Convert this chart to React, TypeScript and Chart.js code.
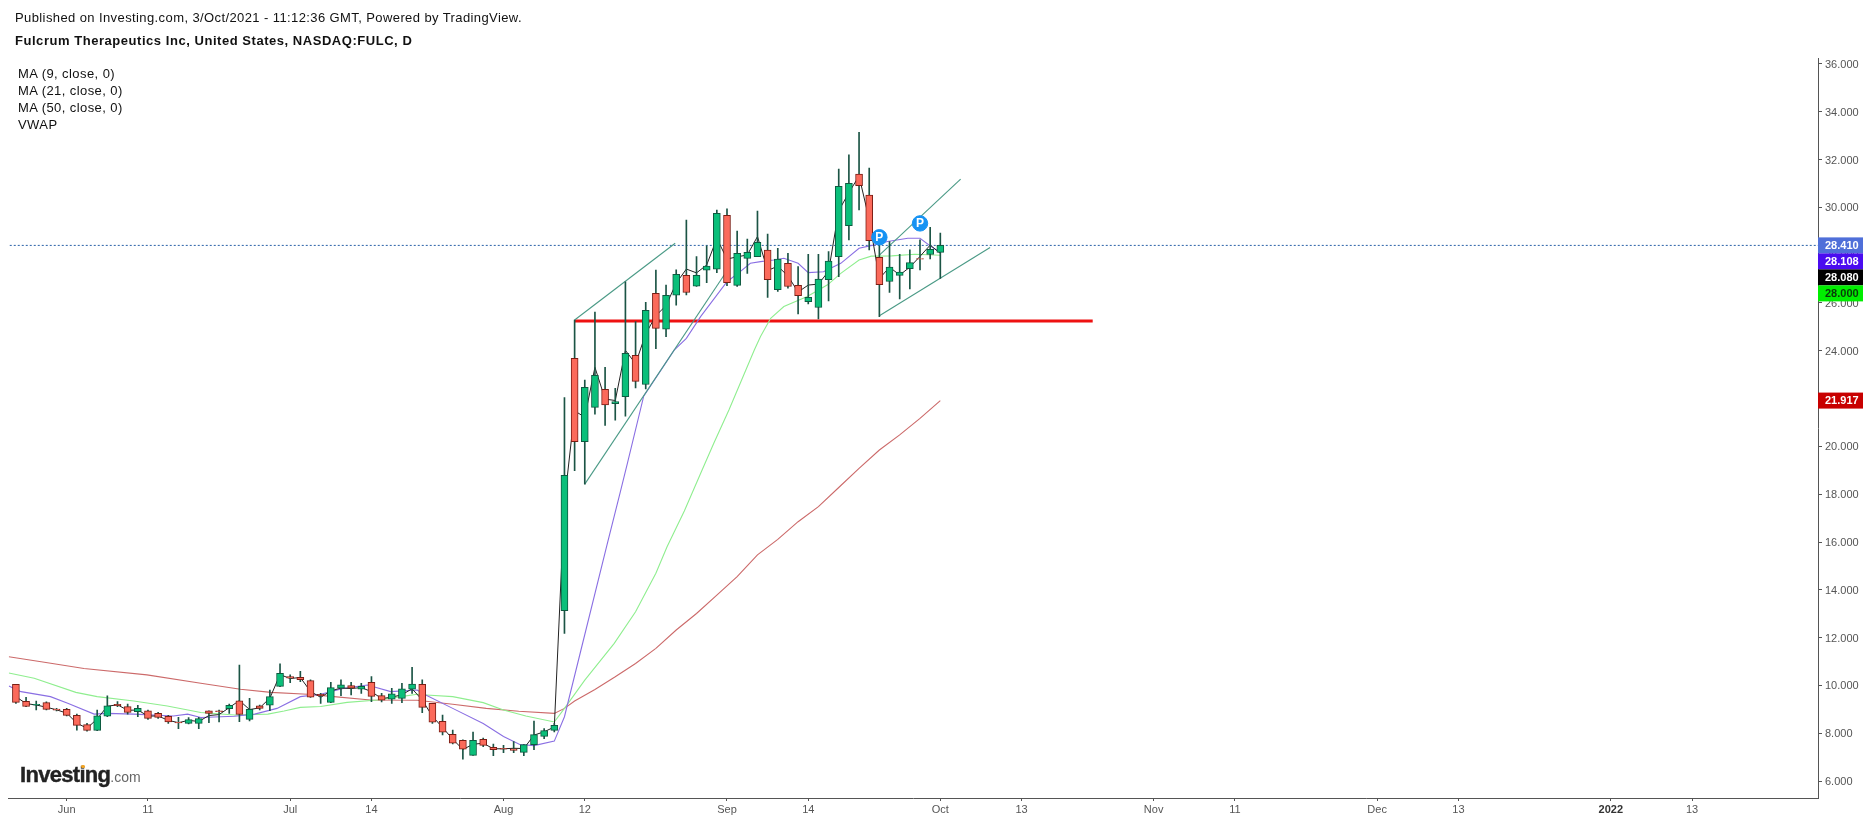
import React, { useEffect, useRef } from "react";
import { Chart, registerables } from "chart.js";

Chart.register(...registerables);

const FONT = "'Liberation Sans', Arial, sans-serif";

const firstBar = -5;
const opens = [10.05,9.33,9.17,9.28,9.01,9.00,8.75,8.36,8.12,8.71,9.21,9.11,8.90,8.94,8.83,8.71,8.46,8.41,8.41,8.94,8.94,9.03,9.36,8.58,9.15,9.17,9.96,10.37,10.34,10.20,9.63,9.29,9.88,9.99,9.84,10.13,9.57,9.42,9.46,9.84,10.05,9.25,8.50,7.95,7.70,7.07,7.74,7.41,7.37,7.35,7.20,7.52,7.87,8.12,13.13,23.68,20.20,21.63,22.39,21.79,22.08,23.81,22.59,26.40,24.90,26.33,27.16,26.70,27.37,27.41,29.67,26.74,27.87,27.94,28.21,26.56,27.66,26.74,26.06,25.81,26.98,27.94,29.24,31.39,30.51,27.91,26.90,27.15,27.44,27.86,28.03,28.12];
const closes = [9.29,9.12,9.21,9.00,8.96,8.75,8.33,8.12,8.73,9.15,9.15,8.87,9.04,8.62,8.66,8.47,8.43,8.57,8.61,8.83,8.90,9.17,8.79,9.00,9.04,9.53,10.51,10.30,10.24,9.51,9.57,9.91,10.03,9.88,9.96,9.54,9.38,9.65,9.86,10.06,9.08,8.46,8.04,7.58,7.33,7.70,7.49,7.31,7.33,7.28,7.52,7.94,8.11,8.33,18.79,20.20,22.47,22.97,21.74,21.88,23.89,22.72,25.69,24.94,26.32,27.20,26.44,27.16,27.54,29.75,26.85,28.08,28.12,28.54,26.98,27.84,26.69,26.31,26.24,27.00,27.75,30.88,31.01,30.91,28.61,26.77,27.50,27.29,27.69,27.83,28.25,28.41];
const highs = [10.05,9.50,9.35,9.31,9.04,9.04,8.80,8.41,8.97,9.56,9.32,9.22,9.17,8.97,8.87,8.75,8.66,8.65,8.66,8.94,8.97,9.22,10.85,9.46,9.18,9.81,10.90,10.44,10.59,10.23,9.67,10.13,10.23,10.13,10.09,10.37,9.67,9.88,10.09,10.76,10.23,9.25,8.76,8.13,7.72,8.05,7.80,7.55,7.49,7.65,7.52,8.51,8.19,8.41,22.04,25.29,22.78,25.62,23.31,22.43,26.89,25.22,26.03,27.38,26.75,27.39,29.47,27.94,28.39,29.89,29.94,29.01,28.67,29.85,28.88,28.29,28.08,27.52,28.04,28.04,28.15,31.60,32.20,33.14,31.64,28.85,28.57,28.04,28.22,28.64,29.17,28.92];
const lows = [9.25,9.11,8.97,8.97,8.93,8.72,8.13,8.09,8.11,8.69,9.11,8.80,8.69,8.58,8.62,8.41,8.19,8.39,8.19,8.44,8.47,8.83,8.48,8.52,8.97,8.94,9.95,10.11,10.16,9.50,9.25,9.28,9.57,9.60,9.67,9.32,9.31,9.25,9.28,9.67,8.86,8.41,7.93,7.55,6.91,7.07,7.44,7.06,7.19,7.19,7.06,7.31,7.77,8.05,12.18,18.98,18.42,21.35,20.88,21.10,21.27,22.45,22.40,24.09,24.59,25.91,26.34,26.69,26.85,27.27,26.73,26.69,27.24,27.94,26.23,26.48,26.62,25.54,25.96,25.33,26.09,27.10,28.64,29.89,28.22,25.43,26.44,26.17,26.59,27.38,27.84,27.03];
const vwap = [9.53,9.24,9.18,9.09,8.98,8.84,8.42,8.21,8.60,9.13,9.19,8.96,8.97,8.72,8.72,8.54,8.44,8.54,8.49,8.74,8.78,9.07,9.37,8.99,9.06,9.47,10.45,10.29,10.33,9.75,9.50,9.77,9.89,9.87,9.91,9.74,9.45,9.51,9.61,9.86,9.39,8.71,8.24,7.75,7.32,7.54,7.58,7.35,7.35,7.37,7.36,7.92,8.06,8.26,17.67,21.49,21.22,23.31,21.98,21.92,24.02,23.46,24.71,25.47,25.89,26.83,27.42,27.26,27.59,28.70,27.84,27.93,28.01,28.78,27.36,27.54,27.13,26.46,26.75,26.79,27.33,29.86,30.62,31.31,29.49,27.02,27.50,27.17,27.50,27.95,28.42,28.08];

const ma9Bars = [-5.7,-4.5,-1.6,0.1,2.7,4,6.6,10.5,11.9,13.2,16.5,18.5,20.7,23,25,27.3,29.6,31.9,34.5,35,38,41,43,44.6,46,48,49,50.6,53.2,54.5,55.2,56.8,59.8,61,62.4,65,66.3,67.3,68.3,69.6,70.6,72,73,74.5,76.2,78,79.5,80.8,82.8,84,85,86];
const ma9Values = [9.98,9.74,9.53,9.25,8.80,8.83,8.80,8.72,8.80,8.66,8.71,8.80,9.04,9.53,9.63,9.88,10.02,9.74,9.81,9.67,9.04,8.41,7.86,7.53,7.48,7.67,8.69,11.44,15.90,18.10,19.30,22.10,24.03,24.52,25.43,26.89,27.31,27.66,27.73,27.80,27.87,27.66,27.27,27.31,27.66,28.29,28.43,28.57,28.71,28.71,28.39,28.11];
const ma21Bars = [-5.7,-3.2,0.9,3,6.6,9.9,13.2,16.5,19.8,21.4,23,25,27.6,30.6,32.9,34.5,35.4,38,41,43,45.2,48,49,51,53.9,56,58,59.1,60.8,62.4,63.7,65.2,67.7,68.3,69.3,70.6,72.9,74.9,76.2,78,79.2,81.2,83.5,86];
const ma21Values = [10.52,10.30,9.71,9.53,9.35,9.14,8.87,8.76,8.80,8.93,9.08,9.12,9.29,9.39,9.53,9.63,9.60,9.53,9.28,8.97,8.72,8.47,9.04,10.22,11.76,13.08,14.69,15.80,17.30,18.87,20.13,21.53,24.04,24.60,25.36,25.85,26.27,26.76,27.24,27.80,27.96,27.97,28.04,28.00];
const ma50Bars = [-5.7,-2.2,1.7,7.9,13.2,17.1,20.1,23.7,26.3,29.9,34.5,38,41.3,44.5,48,49,50,52,54,56,58,60,62,64,66,68,70,72,74,76,78,80,82,84,86];
const ma50Values = [11.20,10.97,10.71,10.44,10.09,9.84,9.71,9.63,9.53,9.39,9.38,9.21,9.04,8.92,8.83,9.04,9.35,9.83,10.36,10.92,11.55,12.32,13.01,13.78,14.55,15.46,16.11,16.85,17.48,18.28,19.08,19.85,20.48,21.17,21.917];

const channelSegments = [
  { bars: [50, 59.9], values: [25.29, 28.50] },
  { bars: [51, 65], values: [18.42, 27.35] },
  { bars: [80, 88], values: [28.0, 31.18] },
  { bars: [80, 90.9], values: [25.47, 28.32] },
];
const supportBars = [50, 101];
const supportValues = [25.25, 25.25];
const lastPrice = 28.41;
const pivotBars = [80, 84];
const pivotValues = [28.75, 29.33];

const xTickBars = [0, 8, 22, 30, 43, 51, 65, 73, 86, 94, 107, 115, 129, 137, 152, 160];
const xTickLabels = ["Jun", "11", "Jul", "14", "Aug", "12", "Sep", "14", "Oct", "13", "Nov", "11", "Dec", "13", "2022", "13"];
const yTickValues = [6, 8, 10, 12, 14, 16, 18, 20, 22, 24, 26, 28, 30, 32, 34, 36];

const badgeValues = [28.41, 28.108, 28.08, 28.0, 21.917];
const badgeFills = ["#4f6fd9", "#4a0cf0", "#000000", "#00ee00", "#c80000"];
const badgeInks = ["#ffffff", "#ffffff", "#ffffff", "#0a3a0a", "#ffffff"];

const toPoints = (xs: number[], ys: number[]) => xs.map((x, i) => ({ x, y: ys[i] }));
const UP = "#0abf7a";
const DOWN = "#fb6a5b";

const lineSet = (label: string, data: any[], color: string, width: number, order: number, extra: any = {}) => ({
  type: "line" as const,
  label,
  data,
  borderColor: color,
  borderWidth: width,
  pointRadius: 0,
  tension: 0,
  order,
  ...extra,
});

const overlay = {
  id: "overlay",
  afterDraw(chart: any) {
    const { ctx, scales } = chart;
    const yS = scales.y;
    const xS = scales.x;
    ctx.save();
    ctx.fillStyle = "#ffffff";
    ctx.font = `bold 12px ${FONT}`;
    ctx.textAlign = "center";
    ctx.textBaseline = "middle";
    pivotBars.forEach((b, i) => ctx.fillText("P", xS.getPixelForValue(b), yS.getPixelForValue(pivotValues[i]) + 0.5));
    const left = chart.chartArea.right;
    let prevBottom = -Infinity;
    ctx.font = `bold 11px ${FONT}`;
    ctx.textAlign = "left";
    badgeValues.forEach((v, i) => {
      let top = yS.getPixelForValue(v) - 8;
      if (top < prevBottom) top = prevBottom;
      prevBottom = top + 16;
      ctx.fillStyle = badgeFills[i];
      ctx.fillRect(left, top, 45, 16);
      ctx.fillStyle = badgeInks[i];
      ctx.fillText(v.toFixed(3), left + 7, top + 8.5);
    });
    ctx.restore();
  },
};

const textStyle: React.CSSProperties = { position: "absolute", fontFamily: FONT, color: "#111", whiteSpace: "nowrap", lineHeight: "17px" };

export default function App() {
  const ref = useRef<HTMLCanvasElement>(null);
  useEffect(() => {
    const bars = opens.map((_, i) => i + firstBar);
    const colors = opens.map((o, i) => (closes[i] >= o ? UP : DOWN));
    const edges = opens.map((o, i) => (closes[i] >= o ? "#0d5a40" : "#7a1d14"));
    const chart = new Chart(ref.current as HTMLCanvasElement, {
      type: "bar",
      data: {
        datasets: [
          {
            label: "Body",
            data: bars.map((x, i) => ({ x, y: [opens[i], closes[i]] })),
            backgroundColor: colors,
            borderColor: edges,
            borderWidth: 1,
            borderSkipped: false,
            barThickness: 7,
            grouped: false,
            order: 2,
          },
          {
            label: "Wick",
            data: bars.map((x, i) => ({ x, y: [lows[i], highs[i]] })),
            backgroundColor: "#1b5445",
            borderWidth: 0,
            barThickness: 1,
            grouped: false,
            order: 3,
          },
          lineSet("VWAP", bars.map((x, i) => ({ x, y: vwap[i] })), "#222222", 1, 5),
          lineSet("MA 9", toPoints(ma9Bars, ma9Values), "#8a6fe3", 1.1, 6),
          lineSet("MA 21", toPoints(ma21Bars, ma21Values), "#8fee8f", 1.1, 7),
          lineSet("MA 50", toPoints(ma50Bars, ma50Values), "#cc6a6a", 1.1, 8),
          lineSet("Last", toPoints([-6, 173], [lastPrice, lastPrice]), "#2a62a8", 1, 9, { borderDash: [2, 2] }),
          lineSet("Support", toPoints(supportBars, supportValues), "#ee1111", 3, 9),
          ...channelSegments.map((s, i) => lineSet(`Channel ${i + 1}`, toPoints(s.bars, s.values), "#4a9a86", 1.1, 4)),
          {
            type: "scatter" as const,
            label: "Pivot",
            data: toPoints(pivotBars, pivotValues),
            backgroundColor: "#1592f3",
            borderColor: "#1592f3",
            pointRadius: 7.7,
            pointHoverRadius: 7.7,
            order: 0,
          },
        ] as any,
      },
      options: {
        responsive: false,
        animation: false,
        events: [],
        layout: { padding: { left: 8, top: 58, right: 0, bottom: 0 } },
        plugins: { legend: { display: false }, tooltip: { enabled: false } },
        scales: {
          x: {
            type: "linear",
            position: "bottom",
            offset: false,
            min: -5.71,
            max: 172.4,
            afterBuildTicks: (s: any) => { s.ticks = xTickBars.map((value) => ({ value })); },
            afterFit: (s: any) => { s.height = 24; },
            grid: { drawOnChartArea: false, drawTicks: true, tickLength: 3, color: "#555", offset: false },
            border: { display: true, color: "#555", width: 1 },
            ticks: {
              autoSkip: false,
              maxRotation: 0,
              padding: 2,
              color: (c: any) => (c.tick && xTickLabels[xTickBars.indexOf(c.tick.value)] === "2022" ? "#333" : "#555"),
              font: (c: any) => ({
                family: FONT,
                size: 11,
                weight: c.tick && xTickLabels[xTickBars.indexOf(c.tick.value)] === "2022" ? "bold" : "normal",
              }),
              callback: (v: any) => xTickLabels[xTickBars.indexOf(Number(v))],
            },
          },
          y: {
            type: "linear",
            position: "right",
            min: 5.29,
            max: 36.25,
            afterBuildTicks: (s: any) => { s.ticks = yTickValues.map((value) => ({ value })); },
            afterFit: (s: any) => { s.width = 52; },
            grid: { drawOnChartArea: false, drawTicks: true, tickLength: 4, color: "#555" },
            border: { display: true, color: "#555", width: 1 },
            ticks: {
              autoSkip: false,
              padding: 3,
              labelOffset: 1,
              color: "#555",
              font: { family: FONT, size: 11 },
              callback: (v: any) => Number(v).toFixed(3),
            },
          },
        },
      } as any,
      plugins: [overlay],
    });
    return () => chart.destroy();
  }, []);

  return (
    <div style={{ position: "absolute", left: 0, top: 0, width: 1870, height: 822, background: "#fff", overflow: "hidden" }}>
      <canvas ref={ref} width={1870} height={822} style={{ position: "absolute", left: 0, top: 0, width: 1870, height: 822 }} />
      <div style={{ ...textStyle, left: 15, top: 9, fontSize: 13, letterSpacing: 0.4 }}>Published on Investing.com, 3/Oct/2021 - 11:12:36 GMT, Powered by TradingView.</div>
      <div style={{ ...textStyle, left: 15, top: 32, fontSize: 13, fontWeight: "bold", letterSpacing: 0.54 }}>Fulcrum Therapeutics Inc, United States, NASDAQ:FULC, D</div>
      <div style={{ ...textStyle, left: 18, top: 65, fontSize: 13, letterSpacing: 0.42 }}>MA (9, close, 0)</div>
      <div style={{ ...textStyle, left: 18, top: 82, fontSize: 13, letterSpacing: 0.42 }}>MA (21, close, 0)</div>
      <div style={{ ...textStyle, left: 18, top: 99, fontSize: 13, letterSpacing: 0.42 }}>MA (50, close, 0)</div>
      <div style={{ ...textStyle, left: 18, top: 116, fontSize: 13, letterSpacing: 0.42 }}>VWAP</div>
      <div style={{ ...textStyle, left: 20, top: 762, lineHeight: "26px", fontSize: 22, fontWeight: "bold", color: "#222", letterSpacing: -0.7, WebkitTextStroke: "0.4px #222" }}>
        Investing<span style={{ fontSize: 14, fontWeight: "normal", color: "#666", letterSpacing: 0, WebkitTextStroke: "0px" }}>.com</span>
      </div>
      <div style={{ position: "absolute", left: 81, top: 765, width: 4, height: 3, borderRadius: 2, background: "#f5a623" }} />
    </div>
  );
}
